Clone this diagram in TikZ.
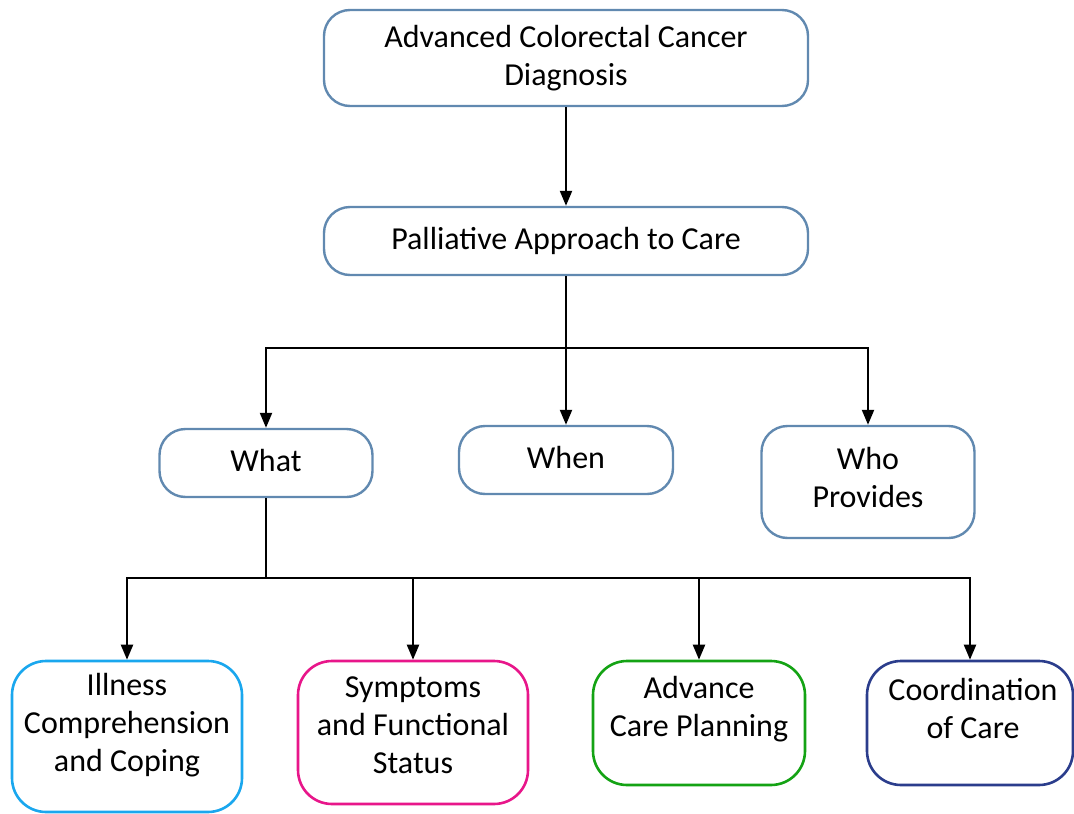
\documentclass[tikz,border=0pt]{standalone}
\usepackage{fontspec}
\setmainfont{Carlito}
\usetikzlibrary{arrows.meta}
\definecolor{boxblue}{HTML}{6189B0}
\definecolor{ccyan}{HTML}{1AA7EE}
\definecolor{cmag}{HTML}{E8168A}
\definecolor{cgreen}{HTML}{14A314}
\definecolor{cnavy}{HTML}{2B3D8C}
\begin{document}
\begin{tikzpicture}[x=1pt,y=-1pt,
  every node/.style={font=\fontsize{32}{38}\selectfont, align=center, inner sep=0pt},
  topbox/.style={draw=boxblue, line width=2.4pt, rounded corners=26pt},
  lowbox/.style={line width=2.6pt, rounded corners=34pt},
  link/.style={line width=2.2pt, black},
  arr/.style={link, -{Triangle[length=15pt,width=12pt]}}]
\clip (0,0) rectangle (1074,814);
\fill[white] (0,0) rectangle (1074,814);
% boxes
\node[topbox, minimum width=484pt, minimum height=96pt] (diag) at (566,58) {Advanced Colorectal Cancer\\Diagnosis};
\node[topbox, minimum width=484pt, minimum height=68pt] (pall) at (566,241) {Palliative Approach to Care};
\node[topbox, minimum width=213pt, minimum height=68pt] (what) at (266,463) {};
\node[topbox, minimum width=214pt, minimum height=68pt] (when) at (566,460) {};
\node[topbox, minimum width=213pt, minimum height=112pt] (who) at (868,482) {};
\node[lowbox, draw=ccyan, minimum width=230pt, minimum height=151pt] (ill) at (127,736.5) {};
\node[lowbox, draw=cmag, minimum width=230pt, minimum height=143pt] (sym) at (413,732.5) {};
\node[lowbox, draw=cgreen, minimum width=212pt, minimum height=124pt] (acp) at (699,723) {};
\node[lowbox, draw=cnavy, minimum width=206pt, minimum height=124pt] (coo) at (970,723) {};
% texts
\node (whatt) at (266,461) {What};
\node (whent) at (566,457) {When};
\node (whot) at (868,478) {Who\\Provides};
\node (illt) at (127,725) {Illness\\Comprehension\\and Coping};
\node (symt) at (413,725) {Symptoms\\and Functional\\Status};
\node (acpt) at (699,709) {Advance\\Care Planning};
\node (coot) at (973,708) {Coordination\\of Care};
% connectors
\draw[arr] (diag.south) -- (pall.north);
\coordinate (j1) at (566,348);
\draw[link] (pall.south) -- (j1);
\draw[arr] (j1) -| (what.north);
\draw[arr] (j1) -- (when.north);
\draw[arr] (j1) -| (who.north);
\coordinate (j2) at (266,578);
\draw[link] (what.south) -- (j2);
\draw[arr] (j2) -| (ill.north);
\draw[arr] (j2) -| (sym.north);
\draw[arr] (j2) -| (acp.north);
\draw[arr] (j2) -| (coo.north);
\end{tikzpicture}
\end{document}
